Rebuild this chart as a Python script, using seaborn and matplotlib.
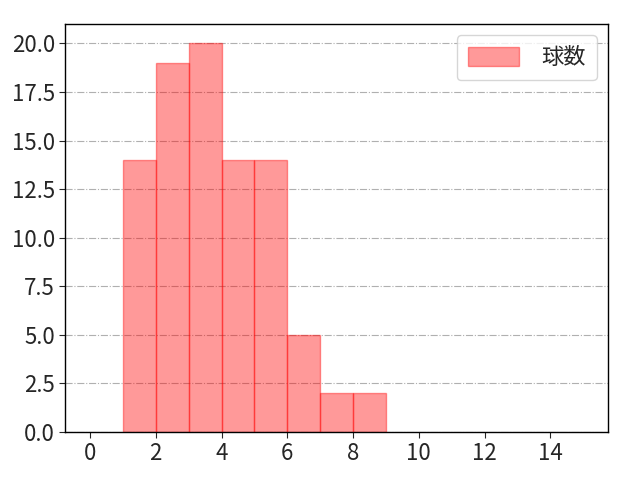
import numpy as np
import pandas as pd
import matplotlib
matplotlib.use("Agg")
import matplotlib.pyplot as plt
import seaborn as sns

pitch_counts = [1, 2, 3, 4, 5, 6, 7, 8]
frequencies = [14, 19, 20, 14, 14, 5, 2, 2]
bin_edges = list(range(1, 10))
label = "球数"

sns.set_style("white")
plt.rcParams['font.family'] = ['Noto Sans CJK JP', 'DejaVu Sans']

df = pd.DataFrame({"x": pitch_counts, "w": frequencies})

fig = plt.figure(figsize=(6.4, 4.8), dpi=100)
ax = fig.add_axes([0.102, 0.1, 0.848, 0.85])
sns.histplot(data=df, x="x", weights="w", bins=bin_edges, ax=ax,
             color="red", alpha=0.4, edgecolor=(1, 0, 0, 0.4), linewidth=1,
             label=label)
ax.set_xlim(-0.75, 15.75)
ax.set_ylim(0, 21)
ax.set_xticks(range(0, 16, 2))
ax.set_yticks(np.arange(0, 20.1, 2.5))
ax.set_xlabel("")
ax.set_ylabel("")
ax.tick_params(labelsize=16, left=True, bottom=True, length=4)
ax.yaxis.grid(True, linestyle="-.", color="#b0b0b0", linewidth=0.8)
ax.xaxis.grid(False)
ax.set_axisbelow(True)
for s in ax.spines.values():
    s.set_color("black")
    s.set_linewidth(1)
ax.legend(loc="upper right", fontsize=16, handlelength=2.3, handleheight=0.9,
          handletextpad=1.0, borderpad=0.5)
fig.savefig("out.png", dpi=100)
